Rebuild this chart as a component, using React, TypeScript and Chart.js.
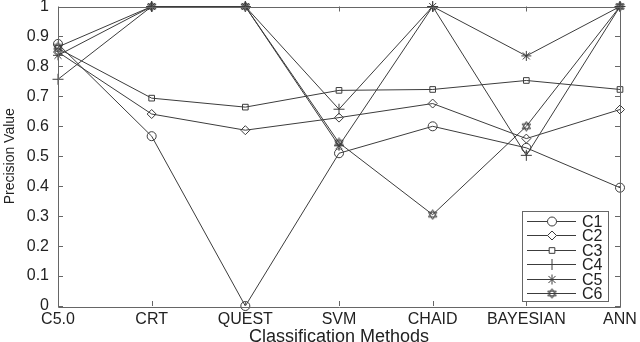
import React, { useEffect, useRef } from "react";
import { Chart, registerables } from "chart.js";
import { drawPoint } from "chart.js/helpers";

Chart.register(...registerables);

const categories = ["C5.0", "CRT", "QUEST", "SVM", "CHAID", "BAYESIAN", "ANN"];
const c1 = [0.875, 0.567, 0.0, 0.51, 0.6, 0.528, 0.395];
const c2 = [0.848, 0.641, 0.587, 0.629, 0.676, 0.559, 0.656];
const c3 = [0.86, 0.694, 0.664, 0.72, 0.723, 0.753, 0.723];
const c4 = [0.757, 1.0, 1.0, 0.657, 1.0, 0.503, 1.0];
const c5 = [0.837, 1.0, 1.0, 0.535, 1.0, 0.835, 1.0];
const c6 = [0.865, 1.0, 1.0, 0.545, 0.305, 0.6, 1.0];
const seriesNames = ["C1", "C2", "C3", "C4", "C5", "C6"];
const yTicks = [0, 0.1, 0.2, 0.3, 0.4, 0.5, 0.6, 0.7, 0.8, 0.9, 1];

const LINE = "#3c3c3c";
const AXIS = "#666666";
const FONT = "'Liberation Sans', Arial, sans-serif";

function makeHexagram(): HTMLCanvasElement {
  const c = document.createElement("canvas");
  c.width = 11;
  c.height = 11;
  const ctx = c.getContext("2d")!;
  ctx.strokeStyle = LINE;
  ctx.lineWidth = 1;
  const cx = 5.5, cy = 5.5, r = 4.8;
  for (let t = 0; t < 2; t++) {
    ctx.beginPath();
    for (let i = 0; i < 3; i++) {
      const a = -Math.PI / 2 + t * Math.PI + (i * 2 * Math.PI) / 3;
      const x = cx + r * Math.cos(a);
      const y = cy + r * Math.sin(a);
      if (i === 0) ctx.moveTo(x, y);
      else ctx.lineTo(x, y);
    }
    ctx.closePath();
    ctx.stroke();
  }
  return c;
}

export default function App() {
  const ref = useRef<HTMLCanvasElement | null>(null);

  useEffect(() => {
    if (!ref.current) return;
    const hex = makeHexagram();
    const values = [c1, c2, c3, c4, c5, c6];
    const styles: any[] = ["circle", "rectRot", "rect", "cross", "star", hex];
    const radii = [4.5, 4.5, 4, 5.5, 5, 5];

    const datasets = values.map((v, i) => ({
      label: seriesNames[i],
      data: v,
      borderColor: LINE,
      backgroundColor: "rgba(0,0,0,0)",
      borderWidth: 1,
      pointStyle: styles[i],
      pointRadius: radii[i],
      pointBorderColor: LINE,
      pointBackgroundColor: "rgba(0,0,0,0)",
      pointBorderWidth: 1,
      tension: 0,
      clip: false as any,
    }));

    const boxPlugin = {
      id: "matlabBox",
      afterDatasetsDraw(chart: any) {
        const { ctx, chartArea } = chart;
        const { left, right, top, bottom } = chartArea;
        const xs = chart.scales.x;
        const ys = chart.scales.y;
        ctx.save();
        ctx.strokeStyle = AXIS;
        ctx.lineWidth = 1;
        ctx.beginPath();
        ctx.rect(Math.round(left) + 0.5, Math.round(top) + 0.5, Math.round(right - left), Math.round(bottom - top));
        ctx.stroke();
        ctx.beginPath();
        const tl = 5;
        categories.forEach((_, i) => {
          const x = Math.round(xs.getPixelForValue(i)) + 0.5;
          ctx.moveTo(x, bottom);
          ctx.lineTo(x, bottom - tl);
          ctx.moveTo(x, top);
          ctx.lineTo(x, top + tl);
        });
        yTicks.forEach((t) => {
          const y = Math.round(ys.getPixelForValue(t)) + 0.5;
          ctx.moveTo(left, y);
          ctx.lineTo(left + tl, y);
          ctx.moveTo(right, y);
          ctx.lineTo(right - tl, y);
        });
        ctx.stroke();

        // legend
        const bx = 522, by = 211, bw = 86, bh = 90;
        ctx.fillStyle = "#ffffff";
        ctx.fillRect(bx, by, bw, bh);
        ctx.strokeStyle = AXIS;
        ctx.strokeRect(bx + 0.5, by + 0.5, bw, bh);
        ctx.font = "16px " + FONT;
        ctx.textBaseline = "middle";
        ctx.textAlign = "left";
        chart.data.datasets.forEach((ds: any, i: number) => {
          const y = Math.round(221 + i * 14.4) + 0.5;
          ctx.strokeStyle = LINE;
          ctx.lineWidth = 1;
          ctx.beginPath();
          ctx.moveTo(527, y);
          ctx.lineTo(576, y);
          ctx.stroke();
          ctx.fillStyle = "#ffffff";
          ctx.strokeStyle = LINE;
          drawPoint(
            ctx,
            {
              pointStyle: ds.pointStyle,
              radius: ds.pointRadius,
              rotation: 0,
              borderWidth: 1,
            } as any,
            552,
            y
          );
          ctx.fillStyle = "#222222";
          ctx.fillText(ds.label, 582, y + 1);
        });
        ctx.restore();
      },
    };

    const chart = new Chart(ref.current, {
      type: "line",
      data: { labels: categories, datasets },
      plugins: [boxPlugin],
      options: {
        responsive: false,
        animation: false,
        devicePixelRatio: 1,
        layout: { padding: { left: 0, right: 20, top: 6, bottom: 0 } },
        plugins: {
          legend: { display: false },
          tooltip: { enabled: false },
        },
        scales: {
          x: {
            type: "category",
            offset: false,
            grid: { display: false, drawTicks: false },
            border: { display: false },
            ticks: {
              color: "#222222",
              font: { family: FONT, size: 16 },
              padding: 4,
              maxRotation: 0,
              autoSkip: false,
            },
            title: {
              display: true,
              text: "Classification Methods",
              color: "#222222",
              font: { family: FONT, size: 18 },
              padding: { top: 0, bottom: -6 },
            },
            afterFit(scale: any) {
              scale.height = 36;
              scale.paddingLeft = 0;
              scale.paddingRight = 0;
            },
          },
          y: {
            min: 0,
            max: 1,
            grid: { display: false, drawTicks: false },
            border: { display: false },
            ticks: {
              stepSize: 0.1,
              color: "#222222",
              font: { family: FONT, size: 16 },
              padding: 9,
              callback: (v: any) => String(Number(Number(v).toFixed(1))),
            },
            title: {
              display: true,
              text: "Precision Value",
              color: "#222222",
              font: { family: FONT, size: 14 },
              padding: { top: 2, bottom: 0 },
            },
            afterFit(scale: any) {
              scale.width = 58;
              scale.paddingTop = 0;
              scale.paddingBottom = 0;
            },
          },
        },
      },
    });
    return () => chart.destroy();
  }, []);

  return (
    <div style={{ position: "fixed", left: 0, top: 0, width: 640, height: 342, background: "#ffffff" }}>
      <canvas ref={ref} width={640} height={342} style={{ width: 640, height: 342 }} />
    </div>
  );
}
